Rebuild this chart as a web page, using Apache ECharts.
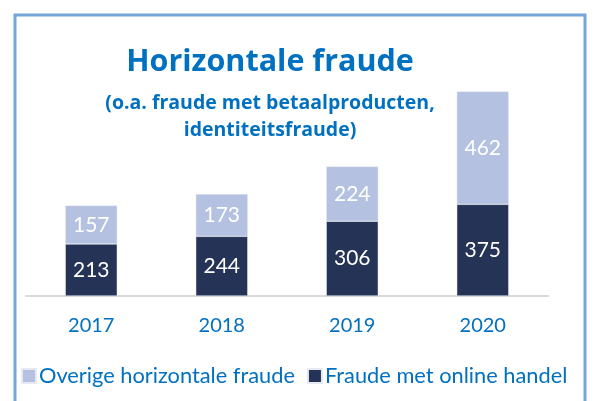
<!DOCTYPE html>
<html>
<head>
<meta charset="utf-8" />
<title>Horizontale fraude</title>
<script type="text/javascript" src="https://cdn.jsdelivr.net/npm/echarts@6/dist/echarts.min.js"></script>
<style>
  html, body { margin: 0; padding: 0; background: #ffffff; }
  #chart { width: 595px; height: 401px; }
</style>
</head>
<body>
<div id="chart"></div>
<script type="text/javascript">
// jaren en aantallen
var years = ['2017', '2018', '2019', '2020'];
var onlineHandel = [213, 244, 306, 375];
var overigeFraude = [157, 173, 224, 462];

var seriesNames = ['Overige horizontale fraude', 'Fraude met online handel'];

var blue = '#0070c0';
var font = 'Lato';
var titleFont = 'Open Sans';

var myChart = echarts.init(document.getElementById('chart'));

myChart.setOption({
    backgroundColor: '#ffffff',
    animation: false,
    color: ['#b4c1e0', '#253356'],
    title: [{
        text: 'Horizontale fraude',
        left: 265,
        top: 42,
        textAlign: 'center',
        textStyle: { color: blue, fontFamily: titleFont, fontWeight: 'bold', fontSize: 30.5 }
    }, {
        text: '(o.a. fraude met betaalproducten,\nidentiteitsfraude)',
        left: 265,
        top: 85,
        textAlign: 'center',
        textStyle: { color: blue, fontFamily: titleFont, fontWeight: 'bold', fontSize: 19.5, lineHeight: 27 }
    }],
    legend: {
        left: 16,
        top: 360,
        itemWidth: 14,
        itemHeight: 14,
        itemGap: 12,
        icon: 'rect',
        data: seriesNames,
        textStyle: { color: blue, fontFamily: font, fontSize: 21.8, padding: [0, 0, 0, -2] }
    },
    // kader rond de grafiek
    graphic: [{
        type: 'rect',
        shape: { x: 15, y: 15, width: 570, height: 400 },
        style: { fill: null, stroke: '#74a6d9', lineWidth: 3 },
        silent: true
    }],
    grid: {
        left: 26,
        right: 47,
        top: 76,
        bottom: 105
    },
    xAxis: {
        type: 'category',
        data: years,
        axisLine: { lineStyle: { color: '#d9d9d9', width: 2 } },
        axisTick: { show: false },
        axisLabel: { color: blue, fontFamily: font, fontSize: 20, margin: 20 }
    },
    yAxis: {
        type: 'value',
        min: 0,
        max: 900,
        show: false,
        splitLine: { show: false }
    },
    series: [{
        name: seriesNames[1],
        type: 'bar',
        stack: 'totaal',
        barWidth: 52,
        data: onlineHandel,
        itemStyle: { color: '#253356', borderColor: '#e6e9f0', borderWidth: 0.5 },
        label: { show: true, color: '#ffffff', fontFamily: font, fontSize: 21 }
    }, {
        name: seriesNames[0],
        type: 'bar',
        stack: 'totaal',
        barWidth: 52,
        data: overigeFraude,
        itemStyle: { color: '#b4c1e0', borderColor: '#e6e9f0', borderWidth: 0.5 },
        label: { show: true, color: '#ffffff', fontFamily: font, fontSize: 21 }
    }]
});
</script>
</body>
</html>
